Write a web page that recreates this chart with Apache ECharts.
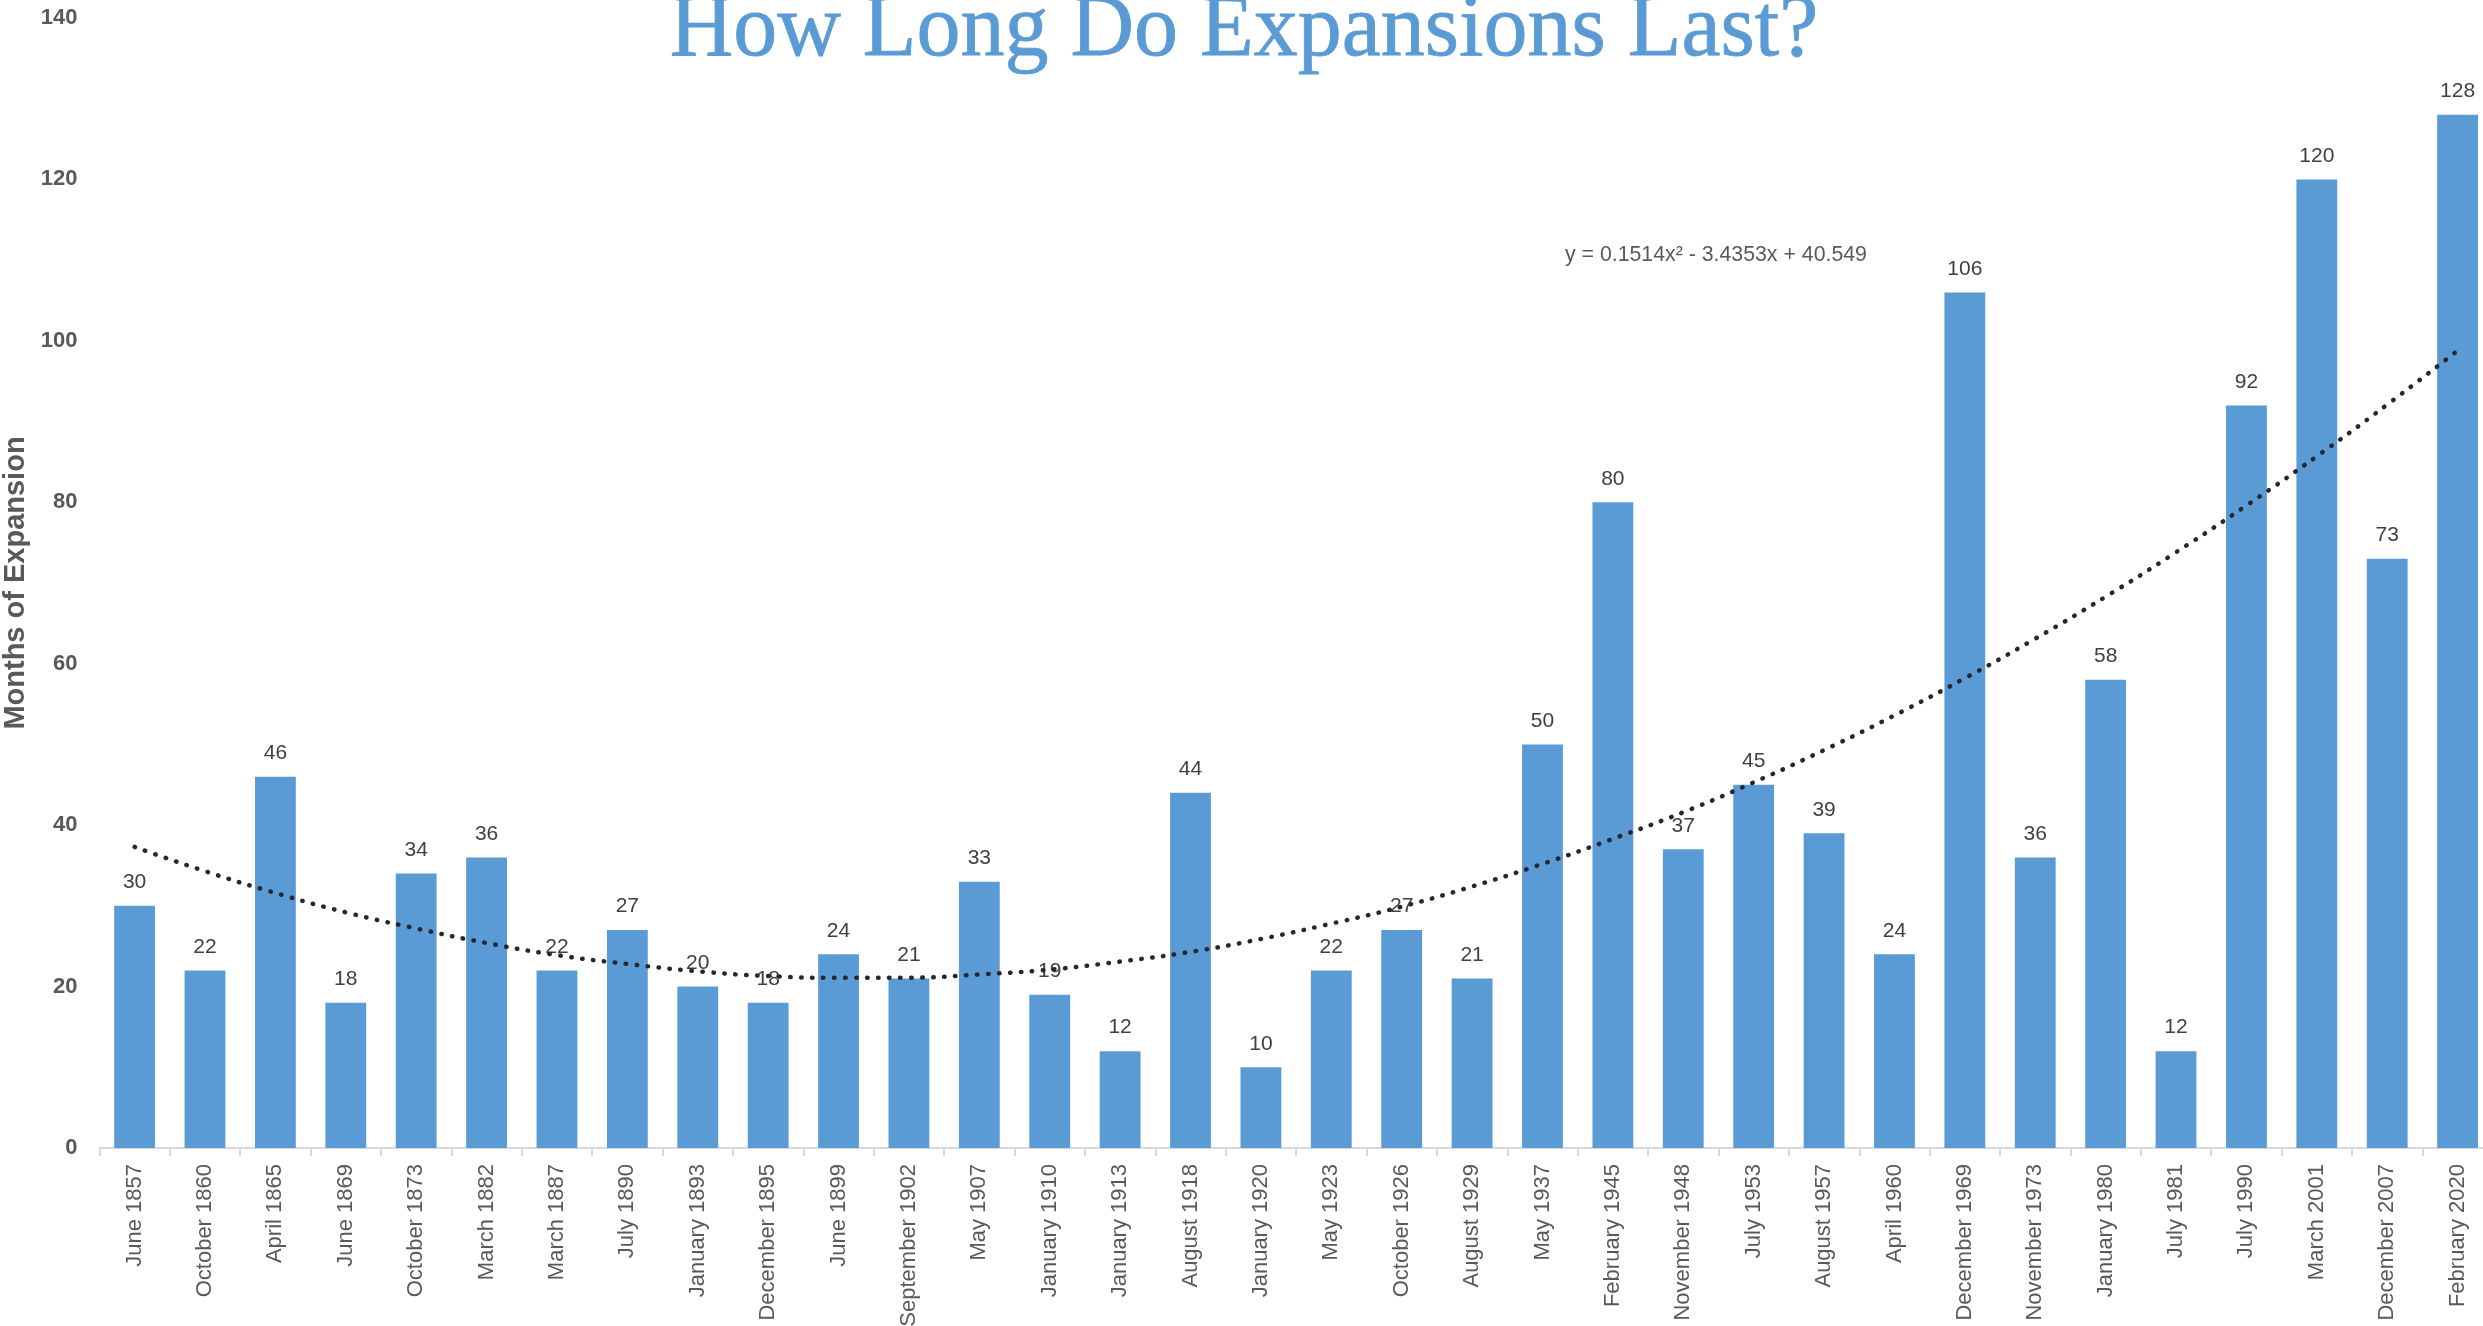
<!DOCTYPE html>
<html>
<head>
<meta charset="utf-8">
<script src="https://cdn.jsdelivr.net/npm/echarts@6/dist/echarts.min.js"></script>
<style>html,body{margin:0;padding:0;background:#fff}#c{width:2483px;height:1326px}</style>
</head>
<body>
<div id="c"></div>
<script>
const categories = ["June 1857","October 1860","April 1865","June 1869","October 1873","March 1882","March 1887","July 1890","January 1893","December 1895","June 1899","September 1902","May 1907","January 1910","January 1913","August 1918","January 1920","May 1923","October 1926","August 1929","May 1937","February 1945","November 1948","July 1953","August 1957","April 1960","December 1969","November 1973","January 1980","July 1981","July 1990","March 2001","December 2007","February 2020"];
const months = [30,22,46,18,34,36,22,27,20,18,24,21,33,19,12,44,10,22,27,21,50,80,37,45,39,24,106,36,58,12,92,120,73,128];
// polynomial trendline values as printed in the chart (y = 0.1514x² - 3.4353x + 40.549), read per category
const trend = [37.3,34.3,31.6,29.2,27.2,25.4,23.9,22.8,21.9,21.3,21.1,21.1,21.5,22.1,23.1,24.3,25.9,27.8,29.9,32.4,35.2,38.3,41.6,45.3,49.3,53.6,58.2,63.1,68.3,73.8,79.6,85.7,92.1,98.8];
const yTicks = [0,20,40,60,80,100,120,140];
const titleText = "How Long Do Expansions Last?";
const equationText = "y = 0.1514x\u00B2 - 3.4353x + 40.549";
const yAxisTitle = "Months of Expansion";

const chart = echarts.init(document.getElementById('c'));
chart.setOption({
  animation: false,
  backgroundColor: '#ffffff',
  grid: { left: 99.4, right: -9.8, top: 18, bottom: 178, containLabel: false, outerBoundsMode: 'none' },
  xAxis: {
    type: 'category',
    data: categories,
    axisLine: { lineStyle: { color: '#d9d9d9', width: 2 } },
    axisTick: { show: true, length: 8, lineStyle: { color: '#d9d9d9', width: 2 } },
    axisLabel: { interval: 0, rotate: 90, margin: 16, fontSize: 22, color: '#595959', fontFamily: 'Liberation Sans' }
  },
  yAxis: {
    type: 'value',
    min: yTicks[0], max: yTicks[yTicks.length-1], interval: 20,
    name: yAxisTitle,
    nameLocation: 'middle',
    nameGap: 69,
    nameMoveOverlap: false,
    nameRotate: 90,
    nameTextStyle: { fontSize: 29, fontWeight: 'bold', color: '#595959', fontFamily: 'Liberation Sans' },
    axisLine: { show: false },
    axisTick: { show: false },
    splitLine: { show: false },
    axisLabel: { fontSize: 22, fontWeight: 'bold', color: '#595959', margin: 22, fontFamily: 'Liberation Sans' }
  },
  graphic: [
    {
      type: 'text', x: 1244, y: 32,
      style: { text: titleText, fontFamily: 'Liberation Serif', fontSize: 88, fill: '#5B9BD5', align: 'center', verticalAlign: 'middle', stroke: '#5B9BD5', lineWidth: 0.8 }
    },
    {
      type: 'text', left: 1565, top: 245,
      style: { text: equationText, fontFamily: 'Liberation Sans', fontSize: 21.3, fill: '#595959' }
    }
  ],
  series: [
    {
      type: 'bar',
      data: months,
      barWidth: '58%',
      itemStyle: { color: '#5B9BD5' },
      label: { show: true, position: 'top', distance: 13, fontSize: 21, color: '#404040', fontFamily: 'Liberation Sans' }
    },
    {
      type: 'line',
      data: trend,
      smooth: true,
      symbol: 'none',
      z: 5,
      lineStyle: { color: '#262630', width: 4.5, type: [0.5, 10.5], cap: 'round' }
    }
  ]
});
</script>
</body>
</html>
